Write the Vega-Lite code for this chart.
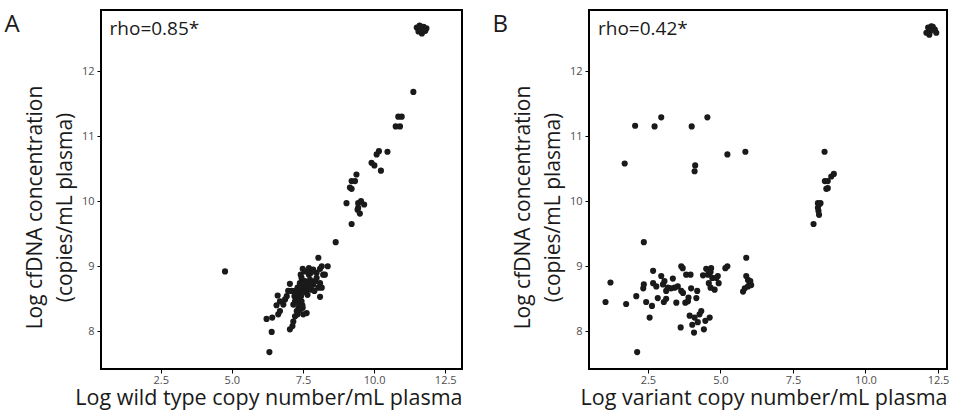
{
  "$schema": "https://vega.github.io/schema/vega-lite/v6.json",
  "padding": {"left": 3, "top": 9, "right": 4, "bottom": 0},
  "spacing": 28,
  "config": {
    "font": "Open Sans",
    "view": {"stroke": "black", "strokeWidth": 2},
    "axis": {
      "domain": false, "grid": false, "tickColor": "black", "tickSize": 4, "tickWidth": 1,
      "labelColor": "#4d4d4d", "labelFontSize": 11, "labelFont": "Open Sans",
      "titleFont": "Open Sans", "titleFontWeight": "normal", "titleColor": "#1a1a1a"
    },
    "title": {"font": "Open Sans", "fontSize": 24, "fontWeight": "normal", "color": "#1a1a1a"}
  },
  "datasets": {
    "a": [
      {"x": 4.76, "y": 8.92}, {"x": 6.32, "y": 7.68}, {"x": 6.40, "y": 7.99}, {"x": 6.22, "y": 8.19}, {"x": 6.42, "y": 8.21},
      {"x": 6.63, "y": 8.26}, {"x": 6.69, "y": 8.31}, {"x": 6.57, "y": 8.40}, {"x": 6.69, "y": 8.46}, {"x": 6.61, "y": 8.55},
      {"x": 6.87, "y": 8.49}, {"x": 6.93, "y": 8.54}, {"x": 6.81, "y": 8.41}, {"x": 6.98, "y": 8.62}, {"x": 7.04, "y": 8.73},
      {"x": 7.04, "y": 8.03}, {"x": 7.13, "y": 8.08}, {"x": 7.16, "y": 8.15}, {"x": 7.22, "y": 8.23}, {"x": 7.28, "y": 8.31},
      {"x": 7.34, "y": 8.36}, {"x": 7.22, "y": 8.46}, {"x": 7.20, "y": 8.54}, {"x": 7.24, "y": 8.62}, {"x": 7.16, "y": 8.41},
      {"x": 7.28, "y": 8.44}, {"x": 7.31, "y": 8.51}, {"x": 7.34, "y": 8.56}, {"x": 7.31, "y": 8.67}, {"x": 7.39, "y": 8.74},
      {"x": 7.45, "y": 8.82}, {"x": 7.49, "y": 8.96}, {"x": 7.54, "y": 8.62}, {"x": 7.57, "y": 8.69}, {"x": 7.57, "y": 8.77},
      {"x": 7.63, "y": 8.67}, {"x": 7.63, "y": 8.28}, {"x": 7.51, "y": 8.26}, {"x": 7.49, "y": 8.36}, {"x": 7.45, "y": 8.46},
      {"x": 7.43, "y": 8.54}, {"x": 7.69, "y": 8.72}, {"x": 7.71, "y": 8.87}, {"x": 7.75, "y": 8.79}, {"x": 7.80, "y": 8.64},
      {"x": 7.86, "y": 8.72}, {"x": 7.92, "y": 8.77}, {"x": 7.98, "y": 8.82}, {"x": 7.71, "y": 8.97}, {"x": 7.78, "y": 8.90},
      {"x": 7.98, "y": 8.90}, {"x": 8.04, "y": 8.67}, {"x": 8.10, "y": 8.74}, {"x": 8.04, "y": 9.13}, {"x": 8.10, "y": 8.96},
      {"x": 8.16, "y": 9.00}, {"x": 8.21, "y": 8.87}, {"x": 8.27, "y": 8.87}, {"x": 8.37, "y": 9.00}, {"x": 8.10, "y": 8.53},
      {"x": 8.16, "y": 8.67}, {"x": 7.90, "y": 8.62}, {"x": 7.66, "y": 8.56}, {"x": 7.51, "y": 8.62}, {"x": 7.39, "y": 8.64},
      {"x": 7.34, "y": 8.62}, {"x": 7.80, "y": 8.74}, {"x": 7.63, "y": 8.74}, {"x": 7.51, "y": 8.69}, {"x": 7.22, "y": 8.62},
      {"x": 7.10, "y": 8.62}, {"x": 7.42, "y": 8.87}, {"x": 7.57, "y": 8.92}, {"x": 7.86, "y": 8.95}, {"x": 7.39, "y": 8.44},
      {"x": 7.39, "y": 8.33}, {"x": 7.31, "y": 8.26}, {"x": 7.45, "y": 8.60}, {"x": 7.60, "y": 8.60}, {"x": 7.70, "y": 8.65},
      {"x": 7.35, "y": 8.48}, {"x": 7.48, "y": 8.40}, {"x": 8.65, "y": 9.37},
      {"x": 9.03, "y": 9.97}, {"x": 9.15, "y": 10.21}, {"x": 9.21, "y": 10.19}, {"x": 9.21, "y": 10.31}, {"x": 9.33, "y": 10.31},
      {"x": 9.38, "y": 10.41}, {"x": 9.21, "y": 9.65}, {"x": 9.44, "y": 9.97}, {"x": 9.54, "y": 10.00}, {"x": 9.65, "y": 9.95},
      {"x": 9.42, "y": 9.87}, {"x": 9.50, "y": 9.81}, {"x": 9.44, "y": 9.90}, {"x": 9.91, "y": 10.59}, {"x": 10.01, "y": 10.55},
      {"x": 10.09, "y": 10.72}, {"x": 10.17, "y": 10.77}, {"x": 10.47, "y": 10.76}, {"x": 10.24, "y": 10.47}, {"x": 10.76, "y": 11.15},
      {"x": 10.91, "y": 11.15}, {"x": 10.85, "y": 11.30}, {"x": 10.97, "y": 11.30}, {"x": 11.38, "y": 11.68},
      {"x": 11.50, "y": 12.67}, {"x": 11.60, "y": 12.70}, {"x": 11.74, "y": 12.68}, {"x": 11.84, "y": 12.66}, {"x": 11.56, "y": 12.61},
      {"x": 11.68, "y": 12.58}, {"x": 11.80, "y": 12.62}, {"x": 11.65, "y": 12.64}
    ],
    "b": [
      {"x": 1.04, "y": 8.45}, {"x": 1.21, "y": 8.75}, {"x": 1.75, "y": 8.42}, {"x": 1.70, "y": 10.58}, {"x": 2.06, "y": 11.16},
      {"x": 2.13, "y": 7.68}, {"x": 2.10, "y": 8.54}, {"x": 2.36, "y": 9.37}, {"x": 2.36, "y": 8.72}, {"x": 2.34, "y": 8.66},
      {"x": 2.44, "y": 8.45}, {"x": 2.56, "y": 8.21}, {"x": 2.64, "y": 8.39}, {"x": 2.68, "y": 8.93}, {"x": 2.68, "y": 8.74},
      {"x": 2.73, "y": 11.15}, {"x": 2.96, "y": 11.29}, {"x": 2.79, "y": 8.69}, {"x": 2.84, "y": 8.51}, {"x": 2.96, "y": 8.85},
      {"x": 3.02, "y": 8.72}, {"x": 3.07, "y": 8.77}, {"x": 3.13, "y": 8.62}, {"x": 3.05, "y": 8.45}, {"x": 3.13, "y": 8.50},
      {"x": 3.19, "y": 8.67}, {"x": 3.30, "y": 8.66}, {"x": 3.36, "y": 8.81}, {"x": 3.42, "y": 8.67}, {"x": 3.48, "y": 8.44},
      {"x": 3.53, "y": 8.69}, {"x": 3.63, "y": 8.06}, {"x": 3.65, "y": 9.00}, {"x": 3.70, "y": 8.97}, {"x": 3.71, "y": 8.59},
      {"x": 3.65, "y": 8.62}, {"x": 3.79, "y": 8.44}, {"x": 3.82, "y": 8.87}, {"x": 3.97, "y": 8.87}, {"x": 3.88, "y": 8.46},
      {"x": 3.90, "y": 8.52}, {"x": 3.94, "y": 8.24}, {"x": 3.99, "y": 8.66}, {"x": 4.01, "y": 11.15}, {"x": 4.03, "y": 8.10},
      {"x": 4.09, "y": 7.98}, {"x": 4.11, "y": 10.46}, {"x": 4.13, "y": 10.55}, {"x": 4.11, "y": 8.21}, {"x": 4.17, "y": 8.51},
      {"x": 4.20, "y": 8.62}, {"x": 4.22, "y": 8.14}, {"x": 4.28, "y": 8.26}, {"x": 4.34, "y": 8.31}, {"x": 4.40, "y": 8.86},
      {"x": 4.43, "y": 8.03}, {"x": 4.48, "y": 8.16}, {"x": 4.55, "y": 11.29}, {"x": 4.51, "y": 8.96}, {"x": 4.57, "y": 8.87},
      {"x": 4.60, "y": 8.74}, {"x": 4.63, "y": 8.21}, {"x": 4.66, "y": 8.91}, {"x": 4.68, "y": 8.97}, {"x": 4.72, "y": 8.82},
      {"x": 4.66, "y": 8.67}, {"x": 4.80, "y": 8.64}, {"x": 4.86, "y": 8.82}, {"x": 4.91, "y": 8.85}, {"x": 4.94, "y": 8.74},
      {"x": 5.17, "y": 8.97}, {"x": 5.24, "y": 9.00}, {"x": 5.24, "y": 10.72}, {"x": 5.86, "y": 10.76}, {"x": 5.89, "y": 9.13},
      {"x": 5.78, "y": 8.61}, {"x": 5.84, "y": 8.66}, {"x": 5.89, "y": 8.85}, {"x": 5.95, "y": 8.79}, {"x": 6.01, "y": 8.72},
      {"x": 5.95, "y": 8.69}, {"x": 6.03, "y": 8.77}, {"x": 6.06, "y": 8.71},
      {"x": 8.21, "y": 9.65}, {"x": 8.36, "y": 9.97}, {"x": 8.40, "y": 9.95}, {"x": 8.45, "y": 9.97}, {"x": 8.36, "y": 9.90},
      {"x": 8.38, "y": 9.85}, {"x": 8.40, "y": 9.79}, {"x": 8.59, "y": 10.76}, {"x": 8.60, "y": 10.31}, {"x": 8.70, "y": 10.31},
      {"x": 8.65, "y": 10.19}, {"x": 8.70, "y": 10.20}, {"x": 8.82, "y": 10.38}, {"x": 8.91, "y": 10.42},
      {"x": 12.16, "y": 12.67}, {"x": 12.27, "y": 12.69}, {"x": 12.39, "y": 12.64}, {"x": 12.10, "y": 12.59}, {"x": 12.25, "y": 12.62},
      {"x": 12.44, "y": 12.59}, {"x": 12.20, "y": 12.56}, {"x": 12.32, "y": 12.68}
    ]
  },
  "hconcat": [
    {
      "width": 361, "height": 359,
      "title": {"text": "A", "anchor": "start", "frame": "bounds", "dx": -20, "dy": 27, "offset": 0},
      "layer": [
        {
          "data": {"name": "a"},
          "mark": {"type": "circle", "size": 38, "color": "#1a1a1a", "opacity": 1},
          "encoding": {
            "x": {"field": "x", "type": "quantitative", "scale": {"domain": [0.4, 13.09], "nice": false, "zero": false},
                  "axis": {"values": [2.5, 5, 7.5, 10, 12.5], "format": ".1f", "title": "Log wild type copy number/mL plasma", "titleFontSize": 21.5, "titleAnchor": "end", "titlePadding": 2, "labelPadding": 1}},
            "y": {"field": "y", "type": "quantitative", "scale": {"domain": [7.42, 12.94], "nice": false, "zero": false},
                  "axis": {"values": [8, 9, 10, 11, 12], "format": "d", "title": ["Log cfDNA concentration", "(copies/mL plasma)"], "titleFontSize": 21, "titleLineHeight": 30, "titlePadding": 6, "titleY": 197, "labelPadding": 3}}
          }
        },
        {
          "data": {"values": [{"x": 0.7, "y": 12.65, "label": "rho=0.85*"}]},
          "mark": {"type": "text", "align": "left", "baseline": "middle", "fontSize": 19, "font": "Open Sans", "color": "#1a1a1a"},
          "encoding": {
            "x": {"field": "x", "type": "quantitative"},
            "y": {"field": "y", "type": "quantitative"},
            "text": {"field": "label"}
          }
        }
      ]
    },
    {
      "width": 358, "height": 359,
      "title": {"text": "B", "anchor": "start", "frame": "bounds", "dx": -20, "dy": 27, "offset": 0},
      "layer": [
        {
          "data": {"name": "b"},
          "mark": {"type": "circle", "size": 38, "color": "#1a1a1a", "opacity": 1},
          "encoding": {
            "x": {"field": "x", "type": "quantitative", "scale": {"domain": [0.47, 12.81], "nice": false, "zero": false},
                  "axis": {"values": [2.5, 5, 7.5, 10, 12.5], "format": ".1f", "title": "Log variant copy number/mL plasma", "titleFontSize": 21.5, "titleAnchor": "end", "titlePadding": 2, "labelPadding": 1}},
            "y": {"field": "y", "type": "quantitative", "scale": {"domain": [7.42, 12.94], "nice": false, "zero": false},
                  "axis": {"values": [8, 9, 10, 11, 12], "format": "d", "title": ["Log cfDNA concentration", "(copies/mL plasma)"], "titleFontSize": 21, "titleLineHeight": 30, "titlePadding": 6, "titleY": 197, "labelPadding": 3}}
          }
        },
        {
          "data": {"values": [{"x": 0.78, "y": 12.65, "label": "rho=0.42*"}]},
          "mark": {"type": "text", "align": "left", "baseline": "middle", "fontSize": 19, "font": "Open Sans", "color": "#1a1a1a"},
          "encoding": {
            "x": {"field": "x", "type": "quantitative"},
            "y": {"field": "y", "type": "quantitative"},
            "text": {"field": "label"}
          }
        }
      ]
    }
  ]
}
